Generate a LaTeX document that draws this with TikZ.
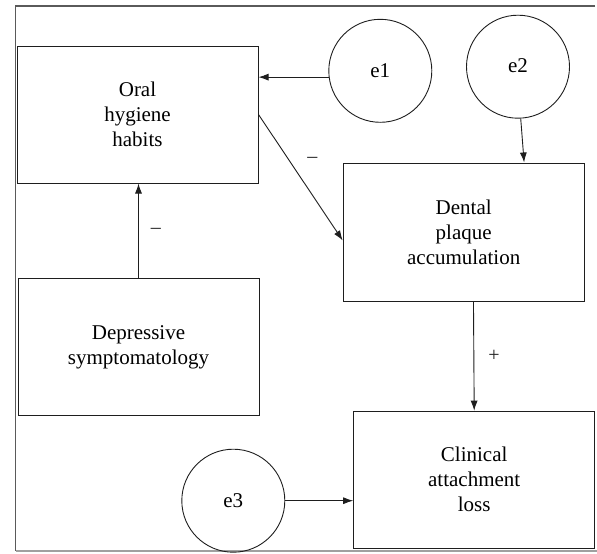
\documentclass[tikz,border=0pt]{standalone}
\usepackage{fontspec}
\setmainfont{Liberation Serif}
\usetikzlibrary{arrows.meta}

\definecolor{pathcolor}{RGB}{30,30,30}
\definecolor{framecolor}{RGB}{90,90,90}
\definecolor{framecolorb}{RGB}{160,160,160}

\begin{document}
\begin{tikzpicture}[yscale=-1
,varbox/.style={draw=pathcolor,line width=1.0pt,minimum width=241pt,minimum height=137pt,align=center,font=\fontsize{21pt}{25pt}\selectfont,inner sep=0pt}
,errnode/.style={draw=pathcolor,line width=0.9pt,circle,minimum size=103pt,inner sep=0pt,font=\fontsize{21pt}{25pt}\selectfont}
,arr/.style={color=pathcolor,line width=0.9pt,-{Latex[length=10pt,width=7pt]}}
,sign/.style={font=\fontsize{20pt}{22pt}\selectfont,inner sep=0pt}
]
\useasboundingbox (0pt,0pt) rectangle (597pt,554pt);
% frame
\draw[color=framecolor,line width=1.2pt] (595pt,6pt) -- (15.5pt,6pt) -- (15.5pt,551pt);
\draw[color=framecolorb,line width=1.2pt] (15.5pt,551pt) -- (597pt,551pt);
% variables
\node[varbox] (oral) at (137.5pt,114.5pt) {Oral\\hygiene\\habits};
\node[varbox] (depr) at (138.5pt,347.3pt) {Depressive\\symptomatology};
\node[varbox,minimum height=138pt] (plaque) at (463.7pt,232pt) {Dental\\plaque\\accumulation};
\node[varbox] (cal) at (474.2pt,479.7pt) {Clinical\\attachment\\loss};
% errors
\node[errnode] (e1) at (380.3pt,70.8pt) {e1};
\node[errnode] (e2) at (518pt,66.7pt) {\raisebox{3pt}{e2}};
\node[errnode] (e3) at (233.3pt,500.7pt) {e3};
% paths
\draw[arr] (e1.187) -- (oral.east |- e1.187);
\draw[arr] (e2.273) -- (plaque.49);
\draw[arr] (e3.east) -- (cal.west |- e3.east);
\draw[arr] (depr.north) -- (depr.north |- oral.south) node[sign,pos=0.5,right=12pt] (s1) {--};
\draw[arr] (oral.east) -- (plaque.184) node[sign,pos=0.36,right=18pt] (s2) {--};
\draw[arr] (plaque.278) -- (cal.north) node[sign,pos=0.5,right=14pt] (s3) {+};
\end{tikzpicture}
\end{document}
